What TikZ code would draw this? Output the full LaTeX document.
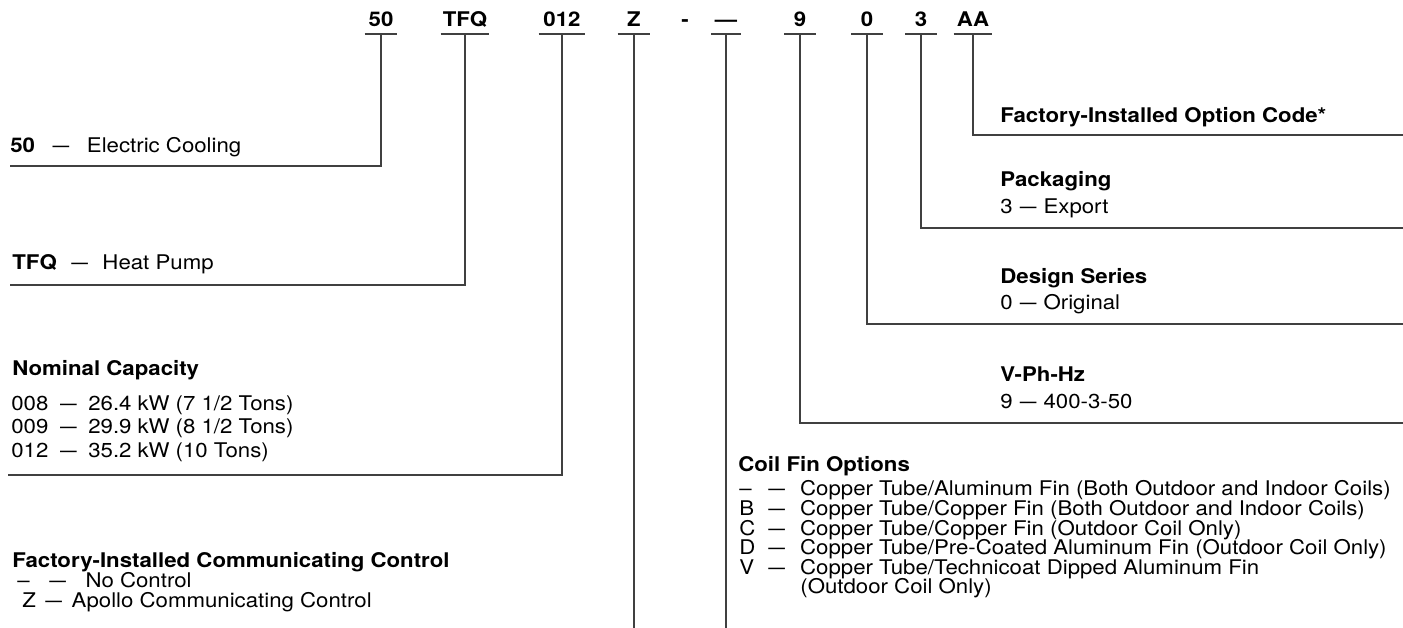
\documentclass[tikz,border=0pt]{standalone}
\usepackage{fontspec}
\setmainfont{TeX Gyre Heros}[FakeStretch=1.1]
\usetikzlibrary{positioning}

% short dash between a code and its meaning
\newcommand{\dsh}{\scalebox{0.75}[1]{—}}
% code, dash and meaning set in columns
\newcommand{\optrow}[4]{\makebox[#1][l]{#2}\makebox[#3][c]{\dsh}#4}

\tikzset{
    txt/.style={font=\fontsize{11.5}{13}\selectfont},
    codebox/.style={font=\fontsize{11.5}{13}\selectfont\bfseries, anchor=south,
        inner xsep=0pt, inner ysep=4pt, text depth=0pt},
    lbl/.style={txt, anchor=base west, inner sep=0pt},
    head/.style={lbl, font=\fontsize{11.5}{13}\selectfont\bfseries},
    lead/.style={line width=0.7pt, draw=black!75},
}

\begin{document}
\begin{tikzpicture}[x=0.02cm, y=-0.02cm]
    \useasboundingbox (0,0) rectangle (1403,628);

    % model number
    \node[codebox, minimum width=0.64cm] (c50)  at (381,34) {50};
    \node[codebox, minimum width=0.96cm] (cTFQ) at (465,34) {TFQ};
    \node[codebox, minimum width=0.92cm] (c012) at (562,34) {012};
    \node[codebox, minimum width=0.64cm] (cZ)   at (634,34) {Z};
    \node[codebox]                       (chy)  at (685,34) {-};
    \node[codebox, minimum width=0.58cm] (cfin) at (726,34) {—};
    \node[codebox, minimum width=0.62cm] (c9)   at (800,34) {9};
    \node[codebox, minimum width=0.62cm] (c0)   at (867,34) {0};
    \node[codebox, minimum width=0.62cm] (c3)   at (921,34) {3};
    \node[codebox, minimum width=0.76cm] (cAA)  at (973,34) {AA};
    \foreach \n in {c50,cTFQ,c012,cZ,cfin,c9,c0,c3,cAA}
        \draw[lead] (\n.south west) -- (\n.south east);

    % ends of the leaders
    \coordinate (e50)  at (10,166);
    \coordinate (eTFQ) at (10,285);
    \coordinate (e012) at (8,475);
    \coordinate (bot)  at (0,628);
    \coordinate (e9)   at (1403,423);
    \coordinate (e0)   at (1403,324);
    \coordinate (e3)   at (1403,228);
    \coordinate (eAA)  at (1403,135);

    \draw[lead] (c50.south) |- (e50);
    \draw[lead] (cTFQ.south) |- (eTFQ);
    \draw[lead] (c012.south) |- (e012);
    \draw[lead] (cZ.south) -- (cZ.south |- bot);
    \draw[lead] (cfin.south) -- (cfin.south |- bot);
    \draw[lead] (c9.south) |- (e9);
    \draw[lead] (c0.south) |- (e0);
    \draw[lead] (c3.south) |- (e3);
    \draw[lead] (cAA.south) |- (eAA);

    % left side
    \node[lbl] (t50) at (10,153) {\optrow{14.1pt}{\textbf{50}}{29.5pt}{Electric Cooling}};
    \node[lbl] (tTFQ) at (12,270) {\optrow{25.3pt}{\textbf{TFQ}}{26pt}{Heat Pump}};

    \node[head] (hcap) at (12,375) {Nominal Capacity};
    \node[lbl] (cap1) at (11,410) {\optrow{21.1pt}{008}{22.7pt}{26.4 kW (7 1/2 Tons)}};
    \node[lbl] (cap2) at (11,433) {\optrow{21.1pt}{009}{22.7pt}{29.9 kW (8 1/2 Tons)}};
    \node[lbl] (cap3) at (11,457) {\optrow{21.1pt}{012}{22.7pt}{35.2 kW (10 Tons)}};

    \node[head] (hctl) at (12,567) {Factory-Installed Communicating Control};
    \node[lbl] (ctl1) at (17,587) {\optrow{7pt}{–}{31.8pt}{No Control}};
    \node[lbl] (ctl2) at (22,607) {\optrow{7.7pt}{Z}{20.4pt}{Apollo Communicating Control}};

    % right side
    \node[head] (hopt) at (1000,123) {Factory-Installed Option Code*};

    \node[head] (hpkg) at (1000,187) {Packaging};
    \node[lbl] (pkg) at (1000,214) {\optrow{7pt}{3}{17.6pt}{Export}};

    \node[head] (hser) at (1000,283) {Design Series};
    \node[lbl] (ser) at (1000,310) {\optrow{7pt}{0}{17.6pt}{Original}};

    \node[head] (hvph) at (1000,381) {V-Ph-Hz};
    \node[lbl] (vph) at (1000,408) {\optrow{7pt}{9}{17.6pt}{400-3-50}};

    \node[head] (hfin) at (738,471) {Coil Fin Options};
    \node[lbl] (fin1) at (739,495) {\optrow{8pt}{–}{26.6pt}{Copper Tube/Aluminum Fin (Both Outdoor and Indoor Coils)}};
    \node[lbl] (fin2) at (739,515) {\optrow{8pt}{B}{26.6pt}{Copper Tube/Copper Fin (Both Outdoor and Indoor Coils)}};
    \node[lbl] (fin3) at (739,535) {\optrow{8pt}{C}{26.6pt}{Copper Tube/Copper Fin (Outdoor Coil Only)}};
    \node[lbl] (fin4) at (739,554) {\optrow{8pt}{D}{26.6pt}{Copper Tube/Pre-Coated Aluminum Fin (Outdoor Coil Only)}};
    \node[lbl] (fin5) at (739,574) {\optrow{8pt}{V}{26.6pt}{Copper Tube/Technicoat Dipped Aluminum Fin}};
    \node[lbl] (fin6) at (800,593) {(Outdoor Coil Only)};
\end{tikzpicture}
\end{document}
